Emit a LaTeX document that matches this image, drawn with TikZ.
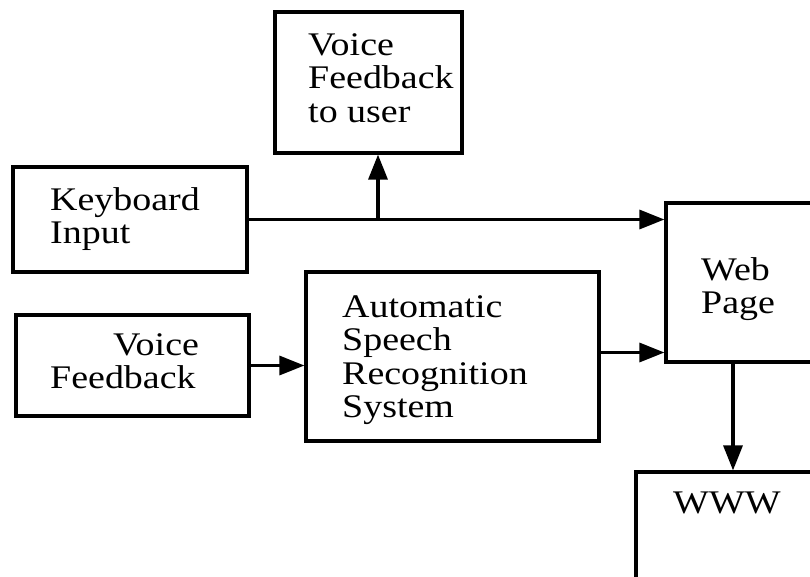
\documentclass[tikz,border=0pt]{standalone}
\usepackage{fontspec}
\setmainfont{Liberation Serif}[FakeStretch=1.15]
\usetikzlibrary{arrows.meta}

\begin{document}
\begin{tikzpicture}[x=1pt,y=-1pt,>={Triangle[length=25pt,width=19pt]},
  box/.style={draw,line width=3.2pt,inner sep=0pt},
  link/.style={->,line width=3.2pt},
  txt/.style={anchor=base west,align=left,inner sep=0pt,
    font=\fontsize{33}{33.5}\selectfont}]
  \useasboundingbox (0,0) rectangle (810,576);
  \clip (0,0) rectangle (810,576);

  % 箱
  \node[box,minimum width=187pt,minimum height=141pt] (vfu) at (368.5,82.5) {};
  \node[box,minimum width=234pt,minimum height=105pt] (kbd) at (130,219.5) {};
  \node[box,minimum width=233pt,minimum height=101pt] (vf) at (132.5,365.5) {};
  \node[box,minimum width=293pt,minimum height=169pt] (asr) at (452.5,356.5) {};
  \node[box,minimum width=174pt,minimum height=159pt] (web) at (753,282.5) {};
  \node[box,minimum width=204pt,minimum height=148pt] (www) at (738,546) {};

  % 文字 (位置は最後の行のベースライン)
  \node[txt] (vfutext) at (308,122) {Voice\\Feedback\\to user};
  \node[txt] (kbdtext) at (50,243.5) {Keyboard\\Input};
  \node[txt] (vftext) at (50,388.5) {\hspace*{63pt}Voice\\Feedback};
  \node[txt] (asrtext) at (342,417.5) {Automatic\\Speech\\Recognition\\System};
  \node[txt] (webtext) at (701,313.5) {Web\\Page};
  \node[txt] (wwwtext) at (673,513) {WWW};

  % 矢印
  \coordinate (split) at (378,219.5);
  \coordinate (down) at (733,362);
  \draw[link] (kbd.east) -- (kbd.east -| web.west);
  \draw[link] (split) -- (vfu.south -| split);
  \draw[link] (vf.east) -- (vf.east -| asr.west);
  \draw[link] ([yshift=4pt]asr.east) -- ([yshift=4pt]asr.east -| web.west);
  \draw[link] (down) -- (down |- www.north);

\end{tikzpicture}
\end{document}
